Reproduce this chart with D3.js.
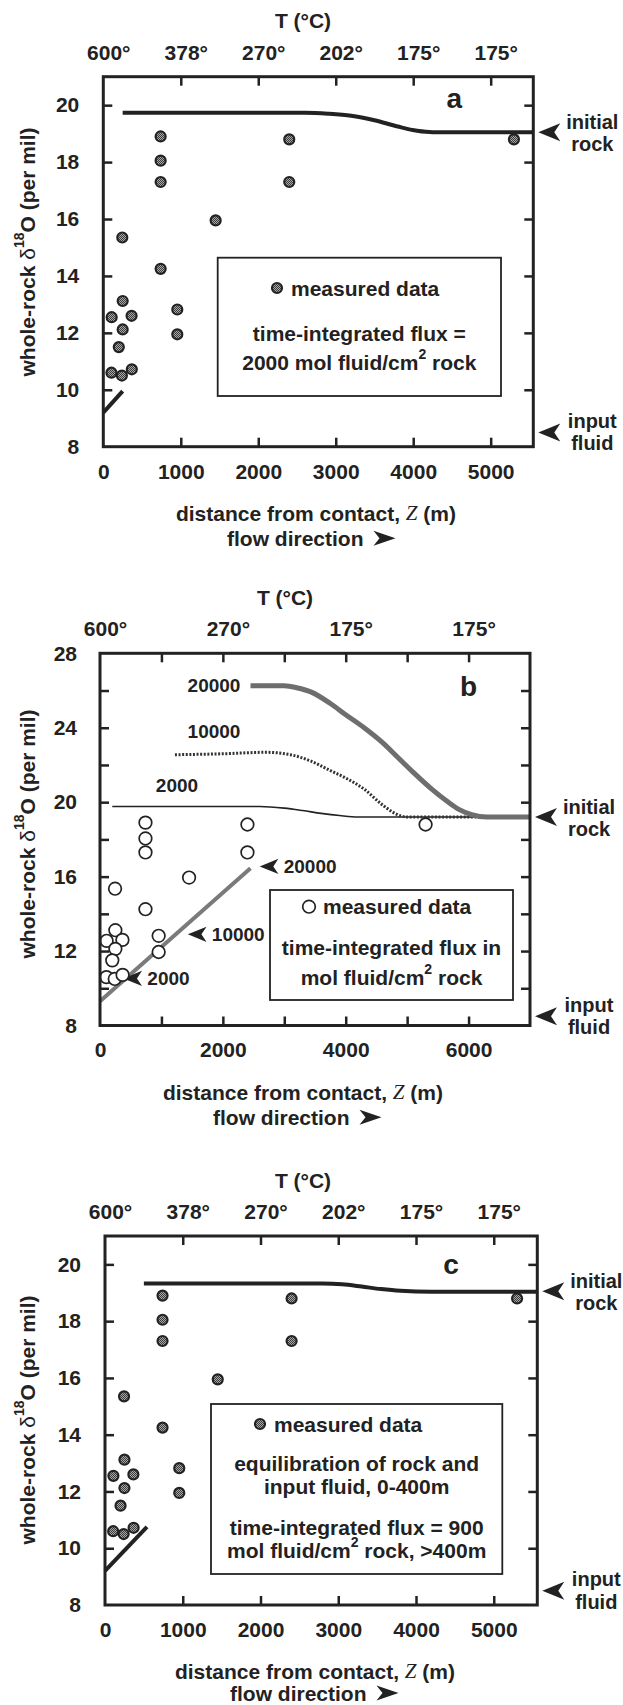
<!DOCTYPE html>
<html><head><meta charset="utf-8">
<script src="https://cdn.jsdelivr.net/npm/d3@7"></script>
<style>
body{margin:0;background:#fff}
svg{display:block}
text{font-family:"Liberation Sans",Arial,Helvetica,sans-serif;font-weight:bold;fill:#222}
</style>
</head><body>
<svg id="chart" width="623" height="1705"></svg>
<script>
// ---------------- data ----------------
const measuredZ    = [740, 740, 740, 1450, 2400, 2400, 245, 740, 250, 108, 365, 250, 200, 955, 955, 105, 240, 368, 5300];
const measuredD18O = [18.9, 18.05, 17.3, 15.95, 18.8, 17.3, 15.35, 14.25, 13.12, 12.55, 12.6, 12.12, 11.5, 12.82, 11.95, 10.6, 10.5, 10.72, 18.8];

const tempTicksAC  = [0, 1000, 2000, 3000, 4000, 5000];
const tempLabelsAC = ["600°", "378°", "270°", "202°", "175°", "175°"];
const tempTicksB   = [0, 2000, 4000, 6000];
const tempLabelsB  = ["600°", "270°", "175°", "175°"];

const distTicksAC  = [0, 1000, 2000, 3000, 4000, 5000];
const distTicksB   = [0, 2000, 4000, 6000];
const d18OTicksAC  = [8, 10, 12, 14, 16, 18, 20];
const d18OTicksB   = [8, 12, 16, 20, 24, 28];

const initialRock  = {a: 19.05, b: 19.2, c: 19.05};
const inputFluid   = 8.5;

// panel a: 2000 mol fluid/cm2
const modelA_Z = [250, 2600, 2900, 3200, 3500, 3800, 4050, 4250, 5550];
const modelA_D = [19.73, 19.73, 19.70, 19.63, 19.47, 19.25, 19.10, 19.05, 19.05];
const frontA_Z = [0, 250];
const frontA_D = [9.2, 9.95];

// panel b: three fluxes
const flux2000_Z  = [200, 2600, 3000, 3300, 3600, 3900, 4200, 7000];
const flux2000_D  = [19.77, 19.77, 19.68, 19.55, 19.4, 19.28, 19.2, 19.2];
const flux10000_Z = [1220, 2000, 2700, 3100, 3400, 3750, 4000, 4300, 4600, 4800, 5000, 7000];
const flux10000_D = [22.55, 22.6, 22.68, 22.55, 22.25, 21.7, 21.3, 20.7, 19.85, 19.4, 19.2, 19.2];
const flux20000_Z = [2450, 3000, 3200, 3450, 3750, 4000, 4300, 4600, 4850, 5100, 5400, 5650, 5850, 6050, 6300, 7000];
const flux20000_D = [26.25, 26.25, 26.15, 25.9, 25.3, 24.7, 24.0, 23.2, 22.4, 21.6, 20.7, 20.05, 19.6, 19.33, 19.2, 19.2];
const frontB_Z = [0, 2450];
const frontB_D = [9.3, 16.45];
const frontMarkZ    = [2600, 1430, 380];
const frontMarkD    = [16.55, 12.9, 10.53];
const frontMarkText = ["20000", "10000", "2000"];

// panel c: 900 mol fluid/cm2, equilibration 0-400 m
const modelC_Z = [500, 2800, 3050, 3300, 3550, 3800, 4200, 5560];
const modelC_D = [19.33, 19.33, 19.3, 19.22, 19.13, 19.07, 19.04, 19.04];
const frontC_Z = [0, 540];
const frontC_D = [9.2, 10.75];

// ---------------- drawing ----------------
const svg = d3.select("#chart");
const INK = "#222";
const FS = 21;

const defs = svg.append("defs");
const pat = defs.append("pattern").attr("id", "hatch").attr("width", 2).attr("height", 2)
  .attr("patternUnits", "userSpaceOnUse");
pat.append("rect").attr("width", 2).attr("height", 2).attr("fill", "#a8a8a8");
pat.append("rect").attr("width", 1).attr("height", 1).attr("fill", "#3a3a3a");
pat.append("rect").attr("x", 1).attr("y", 1).attr("width", 1).attr("height", 1).attr("fill", "#3a3a3a");

const leftArrow = "M0,0 L22,-9 L16,0 L22,9 Z";
const rightArrow = "M0,-7.5 L22,0 L0,7.5 L6,0 Z";

function styleAxis(g, size) {
  g.select(".domain").remove();
  g.attr("font-family", null).attr("font-size", null);
  g.selectAll("line").attr("stroke", INK).attr("stroke-width", 2.5);
  g.selectAll("text").attr("fill", INK).attr("font-size", size || FS).attr("font-weight", "bold");
}

function text(g, x, y, parts, opts) {
  opts = opts || {};
  const t = g.append("text").attr("x", x).attr("y", y)
    .attr("text-anchor", opts.anchor || "middle")
    .attr("dominant-baseline", "central")
    .attr("font-size", opts.size || FS);
  if (opts.transform) t.attr("transform", opts.transform).attr("x", 0).attr("y", 0);
  if (typeof parts === "string") { t.text(parts); return t; }
  let shift = 0;
  parts.forEach(p => {
    const s = t.append("tspan").text(p.t);
    const want = p.sup ? -8 : 0;
    if (want !== shift) { s.attr("dy", want - shift); shift = want; }
    if (p.sup) s.attr("font-size", 14);
    if (p.italic) s.attr("font-style", "italic").attr("font-weight", "normal").attr("font-family", "'Liberation Serif','Times New Roman',serif");
    if (p.normal) s.attr("font-weight", "normal");
  });
  return t;
}

function drawPanel(cfg) {
  const g = svg.append("g");
  const x = d3.scaleLinear().domain(cfg.xDomain).range([cfg.left, cfg.right]);
  const y = d3.scaleLinear().domain(cfg.yDomain).range([cfg.bottom, cfg.top]);
  const line = d3.line().x(d => x(d[0])).y(d => y(d[1])).curve(d3.curveMonotoneX);

  // bottom axis ticks & labels
  g.append("g").attr("transform", `translate(0,${cfg.bottom})`)
    .call(d3.axisBottom(x).tickValues(d3.range(1000, cfg.xDomain[1], 1000)).tickSize(-9).tickFormat(""))
    .call(a => styleAxis(a));
  g.append("g").attr("transform", `translate(0,${cfg.bottom})`)
    .call(d3.axisBottom(x).tickValues(cfg.xLabels).tickSize(0).tickPadding(17).tickFormat(d3.format("d")))
    .call(a => styleAxis(a));
  // top axis ticks & temperature labels
  g.append("g").attr("transform", `translate(0,${cfg.top})`)
    .call(d3.axisTop(x).tickValues(d3.range(1000, cfg.xDomain[1], 1000)).tickSize(-9).tickFormat(""))
    .call(a => styleAxis(a));
  g.append("g").attr("transform", `translate(5,${cfg.top})`)
    .call(d3.axisTop(x).tickValues(cfg.tTicks).tickSize(0).tickPadding(17).tickFormat((d, i) => cfg.tLabels[i]))
    .call(a => styleAxis(a));
  // left axis
  const yTickVals = d3.range(cfg.yDomain[0] + 2, cfg.yDomain[1], 2);
  g.append("g").attr("transform", `translate(${cfg.left},0)`)
    .call(d3.axisLeft(y).tickValues(yTickVals).tickSize(-9).tickFormat(""))
    .call(a => styleAxis(a));
  g.append("g").attr("transform", `translate(${cfg.left},0)`)
    .call(d3.axisLeft(y).tickValues(cfg.yLabels).tickSize(0).tickPadding(cfg.yPad))
    .call(a => styleAxis(a));
  // right axis ticks
  g.append("g").attr("transform", `translate(${cfg.right},0)`)
    .call(d3.axisRight(y).tickValues(yTickVals).tickSize(-9).tickFormat(""))
    .call(a => styleAxis(a));

  // axis titles
  text(g, cfg.tTitleX, cfg.top - 56, "T (°C)");
  text(g, cfg.titleX, cfg.bottom + 66, [{t: "distance from contact, "}, {t: "Z", italic: true}, {t: " (m)"}]);
  const fd = text(g, cfg.flowX, cfg.bottom + cfg.flowDy, "flow direction", {anchor: "start"});
  const fdw = fd.node().getComputedTextLength();
  g.append("path").attr("d", rightArrow).attr("fill", INK)
    .attr("transform", `translate(${cfg.flowX + fdw + 10},${cfg.bottom + cfg.flowDy})`);
  text(g, 0, 0, [{t: "whole-rock "}, {t: "δ", normal: true}, {t: "18", sup: true}, {t: "O (per mil)"}],
    {transform: `translate(27,${cfg.yTitleY}) rotate(-90)`});

  // initial rock / input fluid markers
  const ir = initialRock[cfg.id];
  [[ir, "initial", "rock"], [inputFluid, "input", "fluid"]].forEach(([v, l1, l2], k) => {
    const yy = y(v);
    g.append("path").attr("d", leftArrow).attr("fill", INK)
      .attr("transform", `translate(${cfg.right + 5},${yy})`);
    text(g, cfg.right + 59, yy + (k ? -11.5 : -10.5), l1, {size: 20});
    text(g, cfg.right + 59, yy + (k ? 11 : 11.5), l2, {size: 20});
  });

  // panel letter
  text(g, x(cfg.letterZ), y(cfg.letterD), cfg.id, {size: 28});

  cfg.draw(g, x, y, line);

  // measured data
  const pts = measuredZ.map((z, i) => [z, measuredD18O[i]]);
  g.append("g").selectAll("circle").data(pts).join("circle")
    .attr("cx", d => x(d[0])).attr("cy", d => y(d[1]))
    .attr("r", cfg.open ? 6.3 : 5)
    .attr("fill", cfg.open ? "#fff" : "url(#hatch)")
    .attr("stroke", INK).attr("stroke-width", cfg.open ? 1.7 : 2.2);

  // legend box
  const L = cfg.legend;
  g.append("rect").attr("x", L.x0).attr("y", L.y0).attr("width", L.x1 - L.x0).attr("height", L.y1 - L.y0)
    .attr("fill", "#fff").attr("stroke", INK).attr("stroke-width", 1.8);
  g.append("circle").attr("cx", L.symX).attr("cy", L.lines[0])
    .attr("r", cfg.open ? 6.3 : 5)
    .attr("fill", cfg.open ? "#fff" : "url(#hatch)").attr("stroke", INK).attr("stroke-width", cfg.open ? 1.7 : 2.2);
  text(g, L.symX + 14, L.lines[0], "measured data", {anchor: "start"});
  L.texts.forEach((parts, i) => text(g, (L.x0 + L.x1) / 2, L.lines[i + 1], parts));

  // frame
  g.append("rect").attr("x", cfg.left).attr("y", cfg.top)
    .attr("width", cfg.right - cfg.left).attr("height", cfg.bottom - cfg.top)
    .attr("fill", "none").attr("stroke", INK).attr("stroke-width", 3);
}

const zip = (a, b) => a.map((v, i) => [v, b[i]]);

drawPanel({
  id: "a", left: 103.3, right: 533.3, top: 76.7, bottom: 446.7,
  xDomain: [0, 5550], yDomain: [8, 21],
  xLabels: distTicksAC, yLabels: d18OTicksAC, tTicks: tempTicksAC, tLabels: tempLabelsAC,
  yPad: 24, titleX: 316, tTitleX: 303, flowX: 227, flowDy: 91.5, yTitleY: 252,
  letterZ: 4530, letterD: 20.25,
  legend: {x0: 217.7, x1: 501, y0: 257.7, y1: 396, symX: 277, lines: [288, 333.3, 361.7],
    texts: [[{t: "time-integrated flux ="}], [{t: "2000 mol fluid/cm"}, {t: "2", sup: true}, {t: " rock"}]]},
  draw: (g, x, y, line) => {
    g.append("path").datum(zip(modelA_Z, modelA_D)).attr("d", line)
      .attr("fill", "none").attr("stroke", INK).attr("stroke-width", 4);
    g.append("path").datum(zip(frontA_Z, frontA_D)).attr("d", line)
      .attr("fill", "none").attr("stroke", INK).attr("stroke-width", 4);
  }
});

drawPanel({
  id: "b", left: 100, right: 530, top: 653.3, bottom: 1025.5, open: true,
  xDomain: [0, 7000], yDomain: [8, 28],
  xLabels: distTicksB, yLabels: d18OTicksB, tTicks: tempTicksB, tLabels: tempLabelsB,
  yPad: 23, titleX: 303, tTitleX: 285, flowX: 213, flowDy: 91.8, yTitleY: 834,
  letterZ: 6000, letterD: 26.2,
  legend: {x0: 270, x1: 513, y0: 890, y1: 1000, symX: 309, lines: [906.7, 946.7, 976.7],
    texts: [[{t: "time-integrated flux in"}], [{t: "mol fluid/cm"}, {t: "2", sup: true}, {t: " rock"}]]},
  draw: (g, x, y, line) => {
    g.append("path").datum(zip(flux2000_Z, flux2000_D)).attr("d", line)
      .attr("fill", "none").attr("stroke", INK).attr("stroke-width", 1.6);
    g.append("path").datum(zip(flux10000_Z, flux10000_D)).attr("d", line)
      .attr("fill", "none").attr("stroke", "#333").attr("stroke-width", 3).attr("stroke-dasharray", "2,1.6");
    g.append("path").datum(zip(flux20000_Z, flux20000_D)).attr("d", line)
      .attr("fill", "none").attr("stroke", "#6e6e6e").attr("stroke-width", 5);
    g.append("path").datum(zip(frontB_Z, frontB_D)).attr("d", line)
      .attr("fill", "none").attr("stroke", "#7a7a7a").attr("stroke-width", 4);
    // curve labels
    text(g, 214, y(26.25), "20000", {size: 19});
    text(g, 214, y(23.8), "10000", {size: 19});
    text(g, 177, y(20.9), "2000", {size: 19});
    frontMarkZ.forEach((z, i) => {
      const px = x(z), py = y(frontMarkD[i]);
      g.append("path").attr("d", leftArrow).attr("fill", INK).attr("transform", `translate(${px},${py}) scale(0.85)`);
      text(g, px + 24, py, frontMarkText[i], {anchor: "start", size: 19});
    });
  }
});

drawPanel({
  id: "c", left: 105, right: 537.3, top: 1236, bottom: 1605,
  xDomain: [0, 5560], yDomain: [8, 21],
  xLabels: distTicksAC, yLabels: d18OTicksAC, tTicks: tempTicksAC, tLabels: tempLabelsAC,
  yPad: 24, titleX: 315, tTitleX: 303, flowX: 230, flowDy: 88, yTitleY: 1420,
  letterZ: 4450, letterD: 20.0,
  legend: {x0: 211, x1: 502.3, y0: 1404, y1: 1574, symX: 260, lines: [1424, 1463, 1486, 1527, 1550],
    texts: [[{t: "equilibration of rock and"}], [{t: "input fluid, 0-400m"}],
            [{t: "time-integrated flux = 900"}], [{t: "mol fluid/cm"}, {t: "2", sup: true}, {t: " rock, >400m"}]]},
  draw: (g, x, y, line) => {
    g.append("path").datum(zip(modelC_Z, modelC_D)).attr("d", line)
      .attr("fill", "none").attr("stroke", INK).attr("stroke-width", 4);
    g.append("path").datum(zip(frontC_Z, frontC_D)).attr("d", line)
      .attr("fill", "none").attr("stroke", INK).attr("stroke-width", 4);
  }
});
</script>
</body></html>
